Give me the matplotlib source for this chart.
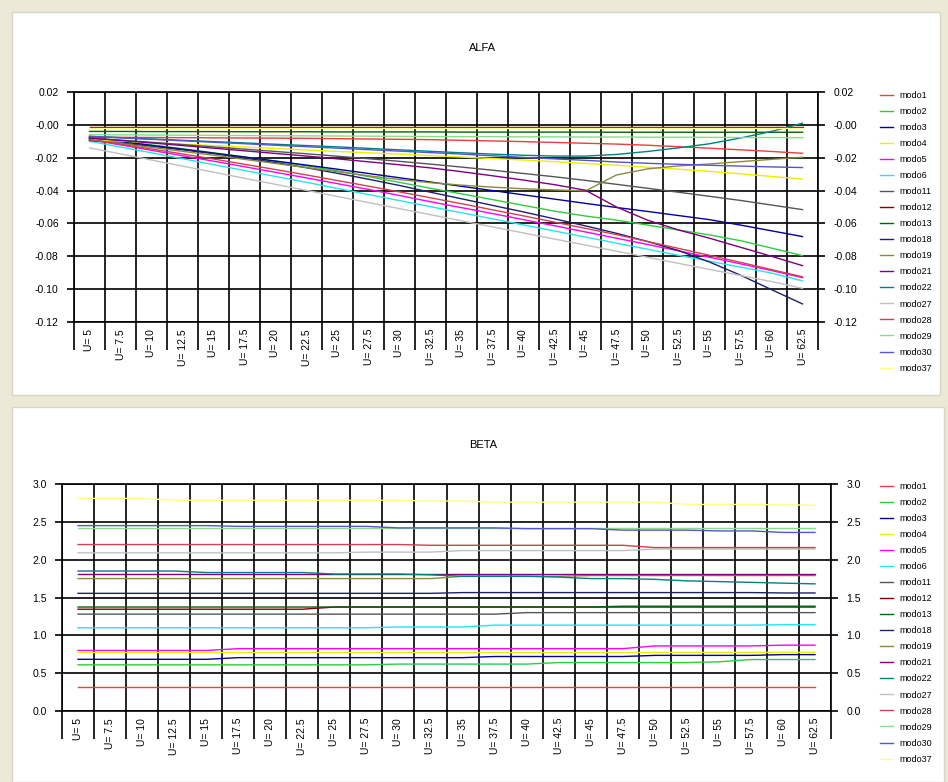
import numpy as np
import matplotlib
matplotlib.use('Agg')
import matplotlib.pyplot as plt
from matplotlib.lines import Line2D
from matplotlib.patches import Rectangle

plt.rcParams['font.family'] = ['Liberation Sans', 'DejaVu Sans']

# ---- data ----
x_labels = ['U= 5', 'U= 7.5', 'U= 10', 'U= 12.5', 'U= 15', 'U= 17.5', 'U= 20', 'U= 22.5',
            'U= 25', 'U= 27.5', 'U= 30', 'U= 32.5', 'U= 35', 'U= 37.5', 'U= 40', 'U= 42.5',
            'U= 45', 'U= 47.5', 'U= 50', 'U= 52.5', 'U= 55', 'U= 57.5', 'U= 60', 'U= 62.5']

modes = ['modo1', 'modo2', 'modo3', 'modo4', 'modo5', 'modo6', 'modo11', 'modo12', 'modo13',
         'modo18', 'modo19', 'modo21', 'modo22', 'modo27', 'modo28', 'modo29', 'modo30', 'modo37']

colors = ['#E8403A', '#2ECC40', '#000099', '#EEEE00', '#FF00FF', '#22E5EE', '#555555', '#800000',
          '#006600', '#1F1F6E', '#8A8A3C', '#800080', '#008080', '#C0C0C0', '#D04050', '#88DD88',
          '#5555CC', '#FFFF88']

# ALFA
alfa_modo1 = [-0.0075, -0.0076, -0.0077, -0.0078, -0.0079, -0.0080, -0.0081, -0.0082, -0.0084, -0.0086, -0.0088, -0.0090,
              -0.0094, -0.0098, -0.0102, -0.0107, -0.0112, -0.0117, -0.0124, -0.0133, -0.0142, -0.0152, -0.0162, -0.0173]
alfa_modo2 = [-0.0080, -0.0100, -0.0122, -0.0145, -0.0170, -0.0195, -0.0222, -0.0250, -0.0280, -0.0315, -0.0350, -0.0386,
              -0.0420, -0.0455, -0.0490, -0.0525, -0.0555, -0.0580, -0.0610, -0.0640, -0.0670, -0.0705, -0.0750, -0.0796]
alfa_modo3 = [-0.0080, -0.0102, -0.0125, -0.0148, -0.0172, -0.0196, -0.0220, -0.0245, -0.0270, -0.0296, -0.0322, -0.0348,
              -0.0374, -0.0400, -0.0426, -0.0452, -0.0478, -0.0503, -0.0527, -0.0552, -0.0577, -0.0610, -0.0645, -0.0680]
alfa_modo4 = [-0.0090, -0.0099, -0.0108, -0.0117, -0.0126, -0.0135, -0.0144, -0.0153, -0.0162, -0.0170, -0.0178, -0.0187,
              -0.0196, -0.0205, -0.0214, -0.0224, -0.0235, -0.0246, -0.0258, -0.0270, -0.0283, -0.0298, -0.0314, -0.0330]
alfa_modo5 = [-0.0090, -0.0122, -0.0155, -0.0188, -0.0221, -0.0255, -0.0289, -0.0323, -0.0358, -0.0393, -0.0430, -0.0468,
              -0.0504, -0.0540, -0.0577, -0.0614, -0.0652, -0.0690, -0.0728, -0.0767, -0.0806, -0.0846, -0.0887, -0.0930]
alfa_modo6 = [-0.0100, -0.0135, -0.0170, -0.0206, -0.0242, -0.0278, -0.0314, -0.0350, -0.0387, -0.0424, -0.0461, -0.0498,
              -0.0535, -0.0572, -0.0609, -0.0646, -0.0683, -0.0720, -0.0757, -0.0794, -0.0830, -0.0866, -0.0902, -0.0950]
alfa_modo11 = [-0.0080, -0.0093, -0.0106, -0.0120, -0.0134, -0.0148, -0.0162, -0.0176, -0.0191, -0.0206, -0.0222, -0.0239,
               -0.0257, -0.0276, -0.0296, -0.0316, -0.0338, -0.0362, -0.0386, -0.0410, -0.0435, -0.0460, -0.0488, -0.0516]
alfa_modo12 = [-0.0010, -0.0010, -0.0010, -0.0010, -0.0010, -0.0010, -0.0010, -0.0010, -0.0010, -0.0010, -0.0010, -0.0010,
               -0.0010, -0.0010, -0.0010, -0.0010, -0.0010, -0.0010, -0.0010, -0.0010, -0.0010, -0.0010, -0.0010, -0.0010]
alfa_modo13 = [-0.0040, -0.0040, -0.0041, -0.0041, -0.0041, -0.0042, -0.0042, -0.0042, -0.0043, -0.0043, -0.0043, -0.0043,
               -0.0044, -0.0044, -0.0044, -0.0044, -0.0044, -0.0045, -0.0045, -0.0045, -0.0045, -0.0045, -0.0045, -0.0045]
alfa_modo18 = [-0.0095, -0.0111, -0.0130, -0.0152, -0.0175, -0.0202, -0.0230, -0.0261, -0.0295, -0.0331, -0.0369, -0.0410,
               -0.0450, -0.0490, -0.0530, -0.0572, -0.0615, -0.0660, -0.0710, -0.0765, -0.0835, -0.0915, -0.1003, -0.1090]
alfa_modo19 = [-0.0090, -0.0113, -0.0137, -0.0161, -0.0185, -0.0210, -0.0235, -0.0260, -0.0285, -0.0310, -0.0333, -0.0352,
               -0.0367, -0.0379, -0.0389, -0.0396, -0.0402, -0.0305, -0.0268, -0.0250, -0.0238, -0.0224, -0.0210, -0.0197]
alfa_modo21 = [-0.0080, -0.0095, -0.0110, -0.0126, -0.0142, -0.0158, -0.0174, -0.0190, -0.0207, -0.0225, -0.0243, -0.0262,
               -0.0285, -0.0310, -0.0336, -0.0364, -0.0398, -0.0500, -0.0580, -0.0640, -0.0690, -0.0745, -0.0800, -0.0857]
alfa_modo22 = [-0.0070, -0.0078, -0.0086, -0.0094, -0.0102, -0.0110, -0.0118, -0.0126, -0.0134, -0.0143, -0.0152, -0.0161,
               -0.0170, -0.0178, -0.0185, -0.0190, -0.0190, -0.0180, -0.0162, -0.0140, -0.0115, -0.0080, -0.0040, 0.0010]
alfa_modo27 = [-0.0140, -0.0177, -0.0214, -0.0251, -0.0288, -0.0325, -0.0362, -0.0399, -0.0436, -0.0473, -0.0510, -0.0547,
               -0.0584, -0.0621, -0.0658, -0.0695, -0.0732, -0.0769, -0.0806, -0.0843, -0.0880, -0.0917, -0.0954, -0.0995]
alfa_modo28 = [-0.0090, -0.0118, -0.0147, -0.0177, -0.0208, -0.0240, -0.0272, -0.0305, -0.0339, -0.0373, -0.0408, -0.0444,
               -0.0480, -0.0517, -0.0554, -0.0592, -0.0630, -0.0668, -0.0710, -0.0752, -0.0794, -0.0837, -0.0881, -0.0925]
alfa_modo29 = [-0.0060, -0.0061, -0.0062, -0.0063, -0.0064, -0.0065, -0.0066, -0.0067, -0.0068, -0.0069, -0.0070, -0.0071,
               -0.0072, -0.0072, -0.0073, -0.0073, -0.0074, -0.0074, -0.0075, -0.0075, -0.0076, -0.0077, -0.0077, -0.0078]
alfa_modo30 = [-0.0070, -0.0079, -0.0088, -0.0097, -0.0106, -0.0115, -0.0124, -0.0133, -0.0142, -0.0151, -0.0160, -0.0169,
               -0.0178, -0.0188, -0.0198, -0.0207, -0.0216, -0.0226, -0.0234, -0.0240, -0.0246, -0.0251, -0.0256, -0.0260]
alfa_modo37 = [-0.0022, -0.0022, -0.0022, -0.0022, -0.0022, -0.0022, -0.0022, -0.0022, -0.0022, -0.0022, -0.0022, -0.0022,
               -0.0022, -0.0022, -0.0022, -0.0022, -0.0022, -0.0022, -0.0022, -0.0022, -0.0022, -0.0022, -0.0022, -0.0022]

# BETA
beta_modo1 = [0.32, 0.32, 0.32, 0.32, 0.32, 0.32, 0.32, 0.32, 0.32, 0.32, 0.32, 0.32,
              0.32, 0.32, 0.32, 0.32, 0.32, 0.32, 0.32, 0.32, 0.32, 0.32, 0.32, 0.32]
beta_modo2 = [0.61, 0.61, 0.61, 0.61, 0.61, 0.61, 0.61, 0.61, 0.61, 0.61, 0.62, 0.62,
              0.62, 0.62, 0.62, 0.64, 0.64, 0.64, 0.64, 0.64, 0.65, 0.68, 0.68, 0.68]
beta_modo3 = [0.683, 0.683, 0.683, 0.683, 0.683, 0.705, 0.705, 0.705, 0.705, 0.705, 0.705, 0.705,
              0.705, 0.72, 0.72, 0.72, 0.72, 0.72, 0.735, 0.735, 0.735, 0.735, 0.745, 0.745]
beta_modo4 = [0.772, 0.772, 0.772, 0.772, 0.772, 0.772, 0.772, 0.772, 0.772, 0.772, 0.772, 0.772,
              0.772, 0.772, 0.772, 0.772, 0.772, 0.772, 0.775, 0.775, 0.775, 0.775, 0.775, 0.775]
beta_modo5 = [0.80, 0.80, 0.80, 0.80, 0.80, 0.824, 0.824, 0.824, 0.824, 0.824, 0.824, 0.824,
              0.824, 0.824, 0.824, 0.824, 0.824, 0.824, 0.86, 0.86, 0.86, 0.86, 0.87, 0.87]
beta_modo6 = [1.10, 1.10, 1.10, 1.10, 1.10, 1.10, 1.10, 1.10, 1.10, 1.10, 1.11, 1.11,
              1.11, 1.135, 1.135, 1.135, 1.135, 1.135, 1.135, 1.135, 1.135, 1.135, 1.14, 1.14]
beta_modo11 = [1.28, 1.28, 1.28, 1.28, 1.28, 1.28, 1.28, 1.28, 1.28, 1.28, 1.28, 1.28,
               1.28, 1.28, 1.30, 1.30, 1.30, 1.30, 1.30, 1.30, 1.30, 1.30, 1.30, 1.30]
beta_modo12 = [1.345, 1.345, 1.345, 1.345, 1.345, 1.345, 1.345, 1.345, 1.374, 1.374, 1.374, 1.374,
               1.374, 1.374, 1.374, 1.374, 1.374, 1.374, 1.374, 1.374, 1.374, 1.374, 1.374, 1.374]
beta_modo13 = [1.374, 1.374, 1.374, 1.374, 1.374, 1.374, 1.374, 1.374, 1.374, 1.374, 1.374, 1.374,
               1.374, 1.374, 1.374, 1.374, 1.374, 1.385, 1.385, 1.385, 1.385, 1.385, 1.385, 1.385]
beta_modo18 = [1.555, 1.555, 1.555, 1.555, 1.555, 1.555, 1.555, 1.555, 1.555, 1.555, 1.555, 1.555,
               1.565, 1.565, 1.565, 1.565, 1.565, 1.565, 1.565, 1.565, 1.565, 1.565, 1.56, 1.56]
beta_modo19 = [1.75, 1.75, 1.75, 1.75, 1.75, 1.75, 1.75, 1.75, 1.75, 1.75, 1.75, 1.75,
               1.78, 1.78, 1.78, 1.78, 1.79, 1.79, 1.79, 1.79, 1.79, 1.79, 1.79, 1.79]
beta_modo21 = [1.815, 1.815, 1.815, 1.815, 1.815, 1.815, 1.815, 1.815, 1.815, 1.815, 1.815, 1.815,
               1.815, 1.815, 1.815, 1.815, 1.815, 1.815, 1.815, 1.815, 1.815, 1.815, 1.815, 1.815]
beta_modo22 = [1.85, 1.85, 1.85, 1.85, 1.83, 1.83, 1.83, 1.83, 1.81, 1.81, 1.81, 1.80,
               1.78, 1.78, 1.78, 1.77, 1.75, 1.75, 1.74, 1.72, 1.71, 1.70, 1.69, 1.68]
beta_modo27 = [2.09, 2.09, 2.09, 2.09, 2.09, 2.09, 2.09, 2.09, 2.09, 2.10, 2.10, 2.10,
               2.12, 2.12, 2.12, 2.12, 2.12, 2.12, 2.14, 2.14, 2.14, 2.14, 2.14, 2.14]
beta_modo28 = [2.20, 2.20, 2.20, 2.20, 2.20, 2.20, 2.20, 2.20, 2.20, 2.20, 2.20, 2.19,
               2.19, 2.19, 2.19, 2.19, 2.19, 2.19, 2.16, 2.16, 2.16, 2.16, 2.16, 2.16]
beta_modo29 = [2.42, 2.42, 2.42, 2.42, 2.42, 2.42, 2.42, 2.42, 2.42, 2.42, 2.42, 2.42,
               2.42, 2.42, 2.42, 2.42, 2.42, 2.42, 2.42, 2.42, 2.42, 2.42, 2.42, 2.42]
beta_modo30 = [2.45, 2.45, 2.45, 2.45, 2.45, 2.44, 2.44, 2.44, 2.44, 2.44, 2.42, 2.42,
               2.42, 2.42, 2.41, 2.41, 2.41, 2.39, 2.39, 2.39, 2.38, 2.38, 2.36, 2.36]
beta_modo37 = [2.81, 2.81, 2.81, 2.785, 2.785, 2.785, 2.785, 2.785, 2.785, 2.785, 2.785, 2.775,
               2.775, 2.76, 2.76, 2.76, 2.76, 2.76, 2.76, 2.73, 2.73, 2.73, 2.725, 2.72]

alfa = [alfa_modo1, alfa_modo2, alfa_modo3, alfa_modo4, alfa_modo5, alfa_modo6, alfa_modo11, alfa_modo12,
        alfa_modo13, alfa_modo18, alfa_modo19, alfa_modo21, alfa_modo22, alfa_modo27, alfa_modo28,
        alfa_modo29, alfa_modo30, alfa_modo37]
beta = [beta_modo1, beta_modo2, beta_modo3, beta_modo4, beta_modo5, beta_modo6, beta_modo11, beta_modo12,
        beta_modo13, beta_modo18, beta_modo19, beta_modo21, beta_modo22, beta_modo27, beta_modo28,
        beta_modo29, beta_modo30, beta_modo37]

alfa_ticks = [0.02, 0.0, -0.02, -0.04, -0.06, -0.08, -0.10, -0.12]
alfa_ticklabels = ['0.02', '-0.00', '-0.02', '-0.04', '-0.06', '-0.08', '-0.10', '-0.12']
beta_ticks = [3.0, 2.5, 2.0, 1.5, 1.0, 0.5, 0.0]
beta_ticklabels = ['3.0', '2.5', '2.0', '1.5', '1.0', '0.5', '0.0']

W, H = 948, 782
fig = plt.figure(figsize=(W / 100, H / 100), dpi=100)
fig.patch.set_facecolor('#ECE9D8')

# white panels
fig.add_artist(Rectangle((12 / W, 1 - 395 / H), (940 - 12) / W, (395 - 12) / H, transform=fig.transFigure,
                         facecolor='white', edgecolor='#DAD6C6', lw=1, zorder=0))
fig.add_artist(Rectangle((12 / W, 0), (944 - 12) / W, (782 - 407) / H, transform=fig.transFigure,
                         facecolor='white', edgecolor='#DAD6C6', lw=1, zorder=0))


def draw_chart(ax, data, ticks, ticklabels, ylim):
    x = np.arange(len(x_labels))
    for vals, c in zip(data, colors):
        ax.plot(x, vals, color=c, lw=1.0, zorder=3)
    ax.set_xlim(-0.5, len(x_labels) - 0.5)
    ax.set_ylim(*ylim)
    ax.set_xticks(x)
    ax.set_xticklabels(x_labels, rotation=90, fontsize=7.5)
    ax.set_xticks(np.arange(-0.5, len(x_labels), 1), minor=True)
    ax.tick_params(axis='x', which='major', length=0, pad=5)
    ax.tick_params(axis='x', which='minor', length=20, width=1.2, color='black', direction='out')
    ax.grid(True, which='minor', axis='x', color='black', lw=1.2, zorder=1)
    ax.set_yticks(ticks)
    ax.set_yticklabels(ticklabels)
    ax.tick_params(axis='y', which='major', left=True, right=True, labelleft=True, labelright=True,
                   length=5, width=1.2, direction='out', labelsize=7.5, pad=6)
    ax.grid(True, which='major', axis='y', color='black', lw=1.2, zorder=1)
    for s in ax.spines.values():
        s.set_color('black')
        s.set_linewidth(1.2)
    ax.set_facecolor('white')


ax1 = fig.add_axes([74 / W, 1 - 322 / H, 744 / W, 230 / H])
draw_chart(ax1, alfa, alfa_ticks, alfa_ticklabels, (-0.12, 0.02))
fig.text(482 / W, 1 - 48 / H, 'ALFA', ha='center', va='center', fontsize=8)

ax2 = fig.add_axes([62 / W, 1 - 711 / H, 769 / W, 227 / H])
draw_chart(ax2, beta, beta_ticks, beta_ticklabels, (0.0, 3.0))
fig.text(483 / W, 1 - 445 / H, 'BETA', ha='center', va='center', fontsize=8)

handles = [Line2D([0], [0], color=c, lw=1.0) for c in colors]
for top in (91, 482):
    fig.legend(handles, modes, loc='upper left', bbox_to_anchor=(880 / W, 1 - top / H),
               bbox_transform=fig.transFigure, frameon=False, fontsize=6.5, handlelength=1.4,
               handletextpad=0.7, labelspacing=0.78, borderpad=0, borderaxespad=0)

fig.savefig('out.png', dpi=100, facecolor=fig.get_facecolor())
